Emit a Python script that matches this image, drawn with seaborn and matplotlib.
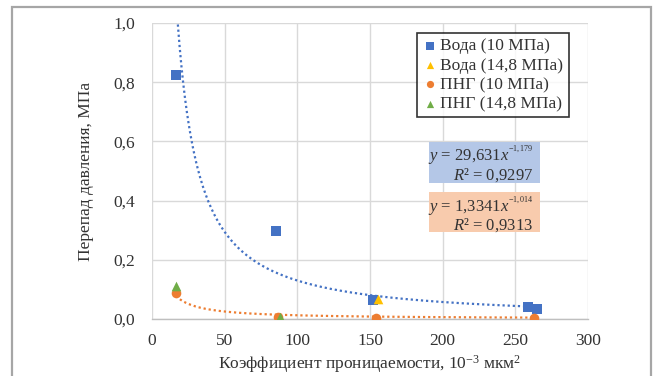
import numpy as np
import pandas as pd
import matplotlib
matplotlib.use("Agg")
import matplotlib.pyplot as plt
from matplotlib.patches import Rectangle
import seaborn as sns

# ---------------- data ----------------
water10_x = [16.5, 85.3, 151.8, 259.0, 265.0]
water10_y = [0.823, 0.297, 0.065, 0.040, 0.034]
water148_x = [155.7]
water148_y = [0.068]
apg10_x = [16.5, 86.9, 153.9, 263.0]
apg10_y = [0.087, 0.007, 0.005, 0.003]
apg148_x = [16.5, 88.0]
apg148_y = [0.112, 0.008]

series_labels = ["Вода (10 МПа)", "Вода (14,8 МПа)", "ПНГ (10 МПа)", "ПНГ (14,8 МПа)"]
series_colors = ["#4472C4", "#FFC000", "#ED7D31", "#70AD47"]
series_markers = ["s", "^", "o", "^"]

# power trendlines shown on the chart: y = a * x^b
trend_water_a, trend_water_b = 29.631, -1.179
trend_apg_a, trend_apg_b = 1.3341, -1.014
eq_water = ("29,631", "-1{,}179", "0,9297")
eq_apg = ("1,3341", "-1{,}014", "0,9313")

x_ticks = [0, 50, 100, 150, 200, 250, 300]
y_ticks = [0.0, 0.2, 0.4, 0.6, 0.8, 1.0]
y_tick_labels = ["0,0", "0,2", "0,4", "0,6", "0,8", "1,0"]

xlabel = r"Коэффициент проницаемости, 10$^{-3}$ мкм$^{2}$"
ylabel = "Перепад давления, МПа"

# ---------------- style ----------------
sns.set_theme(style="white")
plt.rcParams["font.family"] = ["Liberation Serif", "DejaVu Serif"]
plt.rcParams["mathtext.fontset"] = "custom"
plt.rcParams["mathtext.rm"] = "Liberation Serif"
plt.rcParams["mathtext.it"] = "Liberation Serif:italic"

FS = 12.5
FS_EQ = 12
TXT = "#333333"
W, H = 654, 376
fig = plt.figure(figsize=(W / 100, H / 100), dpi=100)
fig.patch.set_facecolor("white")

def fx(px):
    return px / W

def fy(py):
    return 1 - py / H

ax = fig.add_axes([fx(152), fy(319), fx(588) - fx(152), fy(23) - fy(319)])

frames = []
for lab, xs, ys in zip(series_labels,
                       [water10_x, water148_x, apg10_x, apg148_x],
                       [water10_y, water148_y, apg10_y, apg148_y]):
    frames.append(pd.DataFrame({"x": xs, "y": ys, "series": lab}))
df = pd.concat(frames, ignore_index=True)

# trendlines
xw = np.linspace(min(water10_x), max(water10_x), 400)
xa = np.linspace(min(apg10_x), max(apg10_x), 400)
tw = pd.DataFrame({"x": xw, "y": trend_water_a * xw ** trend_water_b})
ta = pd.DataFrame({"x": xa, "y": trend_apg_a * xa ** trend_apg_b})
sns.lineplot(data=tw, x="x", y="y", ax=ax, color="#4472C4", lw=1.6,
             linestyle=(0, (1, 1.3)), zorder=2)
sns.lineplot(data=ta, x="x", y="y", ax=ax, color="#ED7D31", lw=1.6,
             linestyle=(0, (1, 1.3)), zorder=2)

for lab, col, mk in zip(series_labels, series_colors, series_markers):
    sub = df[df["series"] == lab]
    sns.scatterplot(data=sub, x="x", y="y", ax=ax, color=col, marker=mk,
                    s=48, edgecolor=col, linewidth=0, zorder=3, label=lab)

ax.set_xlim(0, 300)
ax.set_ylim(0, 1.0)
ax.set_xticks(x_ticks)
ax.set_xticklabels([str(t) for t in x_ticks])
ax.set_yticks(y_ticks)
ax.set_yticklabels(y_tick_labels)
ax.tick_params(axis="both", length=0, labelsize=FS, colors=TXT)
ax.tick_params(axis="x", pad=10)
ax.tick_params(axis="y", pad=12)
ax.grid(True, color="#d9d9d9", lw=1.0)
ax.set_axisbelow(True)
for side in ["top", "right", "left"]:
    ax.spines[side].set_visible(False)
ax.spines["bottom"].set_color("#bfbfbf")
ax.spines["bottom"].set_linewidth(1.0)

ax.set_xlabel(xlabel, fontsize=FS, color=TXT, labelpad=3)
ax.set_ylabel(ylabel, fontsize=FS, color=TXT, labelpad=14)

h, l = ax.get_legend_handles_labels()
leg = ax.legend(h, l, loc="upper left", bbox_to_anchor=(fx(417), fy(33)),
                bbox_transform=fig.transFigure, borderaxespad=0,
                fontsize=FS, frameon=True, fancybox=False, handletextpad=0.15,
                handlelength=0.9, borderpad=0.3, labelspacing=0.18,
                markerscale=0.75)
leg.get_frame().set_edgecolor("black")
leg.get_frame().set_linewidth(1.2)
for t in leg.get_texts():
    t.set_color(TXT)

# equation boxes
fig.patches.append(Rectangle((fx(429), fy(183)), fx(540) - fx(429), fy(142) - fy(183),
                             transform=fig.transFigure, facecolor="#b4c7e7",
                             edgecolor="none", zorder=5))
fig.patches.append(Rectangle((fx(429), fy(232)), fx(540) - fx(429), fy(192) - fy(232),
                             transform=fig.transFigure, facecolor="#f8cbad",
                             edgecolor="none", zorder=5))

def equation(eq, yc):
    coef, expo, r2 = eq
    s = (r"$y$ = " + coef + r"$x^{{}^{" + expo + r"}}$" + "\n"
         + r"$R$² = " + r2)
    fig.text(fx(533), fy(yc), s, ha="right", va="center", multialignment="right",
             linespacing=0.85, fontsize=FS_EQ, color=TXT, zorder=6)

equation(eq_water, 164)
equation(eq_apg, 214.5)

# outer chart border
fig.patches.append(Rectangle((fx(12), -0.2), fx(651) - fx(12), fy(7) + 0.2,
                             transform=fig.transFigure, facecolor="none",
                             edgecolor="#a6a6a6", lw=1.6, zorder=0))

fig.savefig("out.png", dpi=100)
